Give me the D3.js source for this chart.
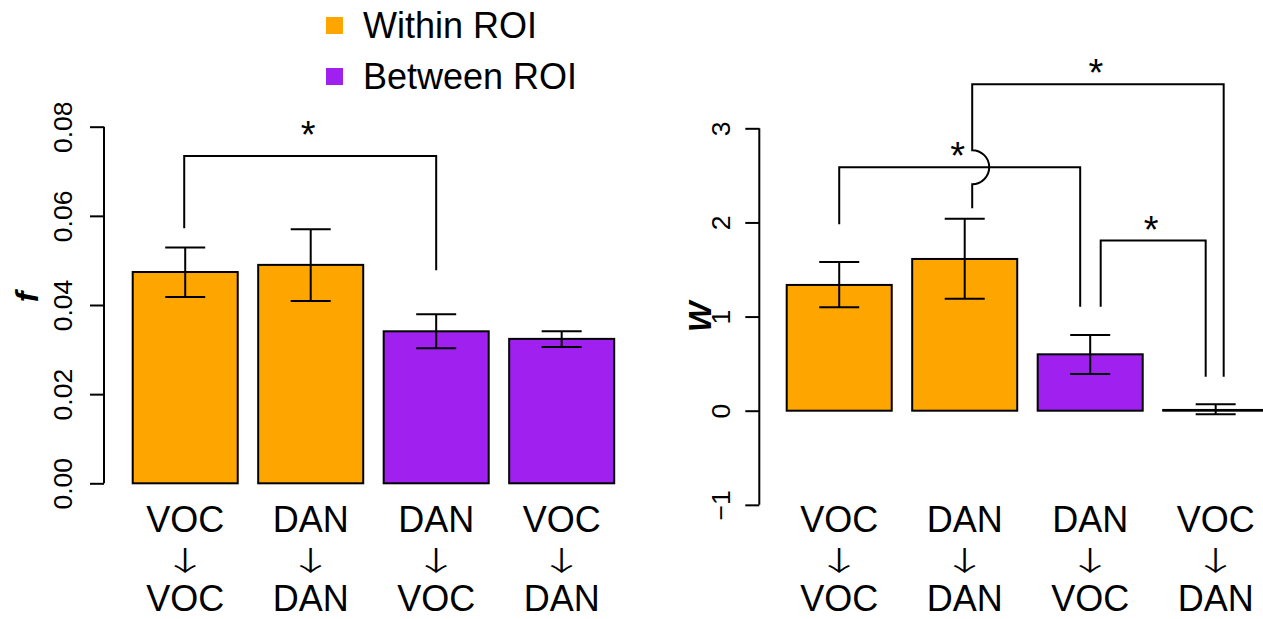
<!DOCTYPE html>
<html><head><meta charset="utf-8">
<script src="https://cdn.jsdelivr.net/npm/d3@7"></script>
<style>
html,body{margin:0;padding:0;background:#fff;}
svg text{font-family:"Liberation Sans",Arial,Helvetica,sans-serif;fill:#000;}
</style>
</head><body>
<svg id="chart" width="1263" height="619"></svg>
<script>
// ---------- data ----------
const categoriesFrom = ["VOC", "DAN", "DAN", "VOC"];
const categoriesTo   = ["VOC", "DAN", "VOC", "DAN"];
const groups = ["Within ROI", "Within ROI", "Between ROI", "Between ROI"];
const legendLabels = ["Within ROI", "Between ROI"];
const legendColors = ["#FFA500", "#A020F0"];

const fValues = [0.0474, 0.0490, 0.0341, 0.0324];
const fUpper  = [0.0529, 0.0570, 0.0379, 0.0341];
const fLower  = [0.0418, 0.0409, 0.0303, 0.0306];
const fTicks  = [0.00, 0.02, 0.04, 0.06, 0.08];
const fTickLabels = ["0.00", "0.02", "0.04", "0.06", "0.08"];

const wValues = [1.336, 1.612, 0.599, 0.008];
const wUpper  = [1.580, 2.040, 0.804, 0.068];
const wLower  = [1.099, 1.190, 0.390, -0.038];
const wTicks  = [-1, 0, 1, 2, 3];
const wTickLabels = ["\u22121", "0", "1", "2", "3"];

// significance brackets: [from index, to index, bracket height, left leg end, right leg end]
const fBrackets = [[0, 2, 0.0734, 0.0572, 0.0478]];
const wBrackets = [[0, 2, 2.587, 1.981, 1.105], [1, 3, 3.469, 2.151, 0.361], [2, 3, 1.807, 1.105, 0.361]];

// ---------- drawing ----------
const svg = d3.select("#chart");
const color = d3.scaleOrdinal().domain(legendLabels).range(legendColors);
const idx = d3.range(categoriesFrom.length);

function panel(opt) {
  const g = svg.append("g");
  const x = d3.scaleBand().domain(idx).range(opt.xRange).paddingInner(0.163).paddingOuter(0);
  const y = d3.scaleLinear().domain(opt.yDomain).range(opt.yRange);
  const cx = i => x(i) + x.bandwidth() / 2;

  // axis
  const axis = d3.axisLeft(y).tickValues(opt.ticks).tickFormat((d, i) => opt.tickLabels[i]).tickSize(14).tickSizeOuter(0);
  const ag = g.append("g").attr("transform", `translate(${opt.axisX},0)`).call(axis);
  ag.attr("font-family", null).attr("font-size", null);
  ag.select(".domain").attr("stroke", "#000").attr("stroke-width", 2)
    .attr("d", `M0,${y(opt.ticks[opt.ticks.length-1])}V${y(opt.ticks[0])}`);
  ag.selectAll(".tick line").attr("stroke", "#000").attr("stroke-width", 2);
  ag.selectAll(".tick text").attr("x", null).attr("dy", null)
    .attr("transform", `translate(${opt.tickLabelDx},0) rotate(-90)`)
    .attr("text-anchor", "middle").style("font-size", "26.5px");

  // axis title
  g.append("text").attr("transform", `translate(${opt.titleX},${opt.titleY}) rotate(-90)`)
    .attr("text-anchor", "middle").attr("font-size", 32).attr("font-weight", "bold").attr("font-style", "italic")
    .text(opt.title);

  // bars
  const base = y(0);
  g.selectAll("rect.bar").data(opt.values).join("rect").attr("class", "bar")
    .attr("x", (d, i) => x(i)).attr("width", x.bandwidth())
    .attr("y", d => Math.min(y(d), base)).attr("height", d => Math.abs(base - y(d)))
    .attr("fill", (d, i) => color(groups[i])).attr("stroke", "#000").attr("stroke-width", 2);

  // error bars
  const cap = 20;
  const eb = g.selectAll("g.eb").data(opt.values).join("g").attr("class", "eb")
    .attr("stroke", "#000").attr("stroke-width", 2).attr("fill", "none");
  eb.append("path").attr("d", (d, i) =>
    `M${cx(i)},${y(opt.upper[i])}V${y(opt.lower[i])}` +
    `M${cx(i)-cap},${y(opt.upper[i])}H${cx(i)+cap}` +
    `M${cx(i)-cap},${y(opt.lower[i])}H${cx(i)+cap}`);

  // brackets
  opt.brackets.forEach((b, k) => {
    const off = opt.bracketOffsets[k];
    const x1 = cx(b[0]) + off[0], x2 = cx(b[1]) + off[1];
    const yh = y(b[2]);
    let d;
    if (opt.hop && opt.hop.index === k) {
      const yc = y(opt.hop.at), r = 17;
      d = `M${x1},${y(b[3])}V${yc + r}A${r},${r} 0 0 0 ${x1},${yc - r}V${yh}H${x2}V${y(b[4])}`;
    } else {
      d = `M${x1},${y(b[3])}V${yh}H${x2}V${y(b[4])}`;
    }
    g.append("path").attr("d", d).attr("stroke", "#000").attr("stroke-width", 2).attr("fill", "none");
    g.append("text").attr("x", (x1 + x2) / 2 - 2).attr("y", yh + opt.starDy).attr("text-anchor", "middle")
      .attr("font-size", 38).text("*");
  });

  // category labels
  const lab = g.selectAll("g.lab").data(idx).join("g").attr("class", "lab")
    .attr("transform", i => `translate(${cx(i)},0)`);
  lab.append("text").attr("y", 532).attr("text-anchor", "middle").attr("font-size", 36).text(i => categoriesFrom[i]);
  lab.append("text").attr("transform", "translate(0,570.5) scale(1.75,1)")
    .attr("text-anchor", "middle").attr("font-size", 27).attr("font-weight", 300)
    .style("font-family", '"Noto Sans CJK JP","Noto Sans CJK SC",sans-serif').text("\u2193");
  lab.append("text").attr("y", 611).attr("text-anchor", "middle").attr("font-size", 36).text(i => categoriesTo[i]);
}

panel({
  xRange: [132.7, 614.2], yDomain: [0, 0.08], yRange: [483.3, 126.7], axisX: 104,
  ticks: fTicks, tickLabels: fTickLabels, values: fValues, upper: fUpper, lower: fLower,
  tickLabelDx: -32,
  title: "f", titleX: 38, titleY: 297, starDy: -8,
  brackets: fBrackets, bracketOffsets: [[-1, 0]]
});
panel({
  xRange: [786.7, 1268.2], yDomain: [0, 3], yRange: [410.7, 128.3], axisX: 759.3,
  ticks: wTicks, tickLabels: wTickLabels, values: wValues, upper: wUpper, lower: wLower,
  tickLabelDx: -29,
  title: "W", titleX: 711, titleY: 317, starDy: 2,
  brackets: wBrackets, bracketOffsets: [[0, -10], [7.5, 8], [10.5, -10]],
  hop: {index: 1, at: 2.587}
});

// legend
const leg = svg.append("g").selectAll("g").data(legendLabels).join("g")
  .attr("transform", (d, i) => `translate(326,${i * 51})`);
leg.append("rect").attr("x", 0).attr("y", 17).attr("width", 17).attr("height", 17).attr("fill", d => color(d));
leg.append("text").attr("x", 37).attr("y", 38).attr("font-size", 36).text(d => d);
</script>
</body></html>
